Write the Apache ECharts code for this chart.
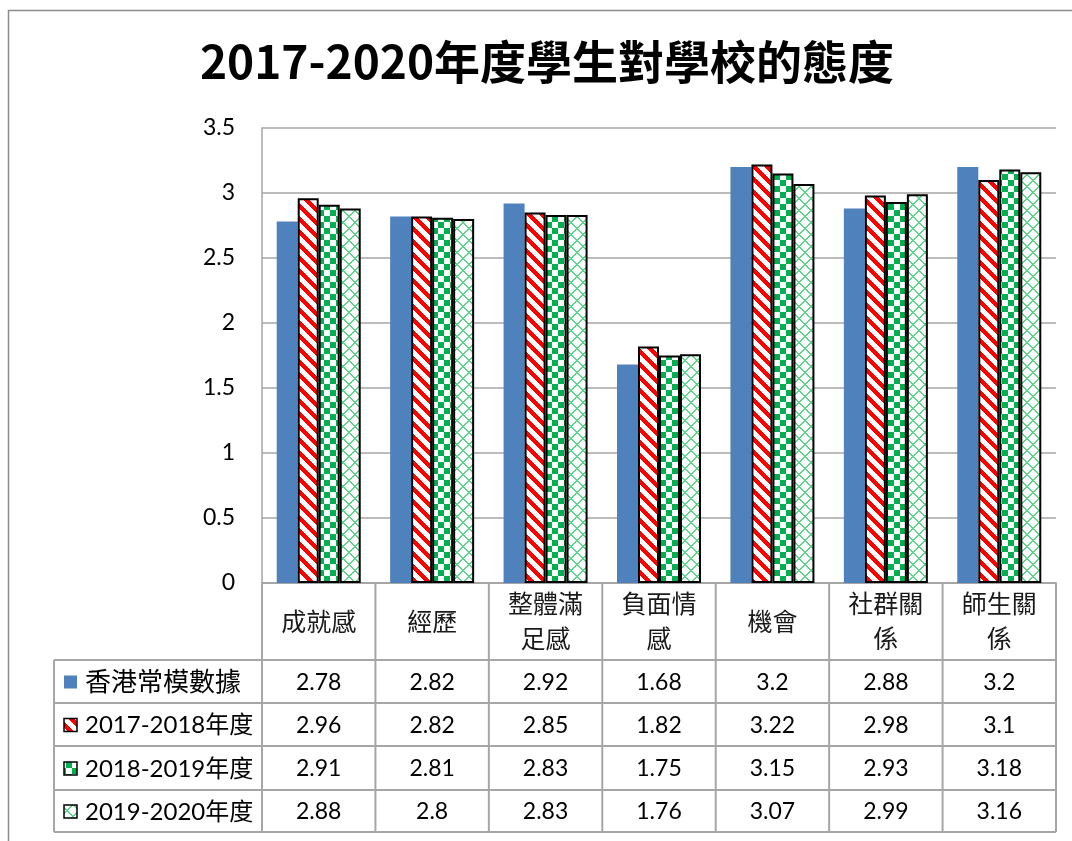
<!DOCTYPE html>
<html>
<head>
<meta charset="utf-8">
<script src="https://cdn.jsdelivr.net/npm/echarts@6/dist/echarts.min.js"></script>
<style>
html,body{margin:0;padding:0;background:#fff;}
#main{width:1072px;height:841px;}
</style>
</head>
<body>
<div id="main"></div>
<script>
const titleText = '2017-2020年度學生對學校的態度';
const categories = ['成就感', '經歷', '整體滿足感', '負面情感', '機會', '社群關係', '師生關係'];
const seriesNames = ['香港常模數據', '2017-2018年度', '2018-2019年度', '2019-2020年度'];
const normHK = [2.78, 2.82, 2.92, 1.68, 3.2, 2.88, 3.2];
const y2017 = [2.96, 2.82, 2.85, 1.82, 3.22, 2.98, 3.1];
const y2018 = [2.91, 2.81, 2.83, 1.75, 3.15, 2.93, 3.18];
const y2019 = [2.88, 2.8, 2.83, 1.76, 3.07, 2.99, 3.16];
const seriesData = [normHK, y2017, y2018, y2019];

// layout constants
const W = 1072, H = 841;
const gridLeft = 262, gridRight = 1056, gridTop = 128, gridBottom = 583;
const rowBounds = [660, 703, 746, 790, 832];
const tableLeft = 54;
const lineColor = '#a6a6a6';

function makePattern(type) {
  let size = type === 'stripe' ? 13 : 12;
  const c = document.createElement('canvas');
  c.width = size; c.height = size;
  const ctx = c.getContext('2d');
  const img = ctx.createImageData(size, size);
  for (let y = 0; y < size; y++) {
    for (let x = 0; x < size; x++) {
      let col = [255, 255, 255];
      if (type === 'stripe') {
        const d = ((x - y) % size + size) % size;
        if (d < 6) col = [255, 0, 0];
      } else if (type === 'check') {
        if ((Math.floor(x / 6) + Math.floor(y / 6)) % 2 === 0) col = [0, 176, 80];
      } else if (type === 'cross') {
        const a = (x + y) % size;
        const b = ((x - y) % size + size) % size;
        if (a < 2 || b < 2) col = [95, 212, 140];
      }
      const i = (y * size + x) * 4;
      img.data[i] = col[0]; img.data[i + 1] = col[1]; img.data[i + 2] = col[2]; img.data[i + 3] = 255;
    }
  }
  ctx.putImageData(img, 0, 0);
  return c;
}

const fills = [
  '#4f81bd',
  { image: makePattern('stripe'), repeat: 'repeat' },
  { image: makePattern('check'), repeat: 'repeat' },
  { image: makePattern('cross'), repeat: 'repeat' }
];

const chart = echarts.init(document.getElementById('main'), null, { renderer: 'canvas' });

function wrap3(s) {
  if (s.length <= 3) return s;
  let out = [];
  for (let i = 0; i < s.length; i += 3) out.push(s.slice(i, i + 3));
  return out.join('\n');
}

const series = seriesNames.map((name, k) => ({
  name: name,
  type: 'bar',
  data: seriesData[k],
  barWidth: 21,
  barGap: '0%',
  itemStyle: k === 0
    ? { color: fills[0] }
    : { color: fills[k], borderColor: '#000', borderWidth: 2 },
  emphasis: { disabled: true }
}));

chart.setOption({
  animation: false,
  backgroundColor: '#fff',
  grid: { left: gridLeft, right: W - gridRight, top: gridTop, bottom: H - gridBottom, containLabel: false },
  xAxis: {
    type: 'category',
    data: categories,
    axisLine: { show: true, lineStyle: { color: lineColor, width: 2 } },
    axisTick: { show: false },
    axisLabel: {
      interval: 0,
      margin: 38,
      verticalAlign: 'middle',
      lineHeight: 35,
      fontSize: 25,
      fontFamily: 'Noto Sans CJK TC',
      color: '#1a1a1a',
      formatter: wrap3
    }
  },
  yAxis: {
    type: 'value',
    min: 0, max: 3.5, interval: 0.5,
    axisLine: { show: true, lineStyle: { color: lineColor, width: 1.5 } },
    axisTick: { show: false },
    splitLine: { show: true, lineStyle: { color: lineColor, width: 1.5 } },
    axisLabel: { margin: 27, fontSize: 23, fontFamily: 'Lato', color: '#000' }
  },
  series: series
});

// build title, frame and data table
const colW = (gridRight - gridLeft) / categories.length;
const g = [];
g.push({ type: 'rect', shape: { x: 8.5, y: 10.5, width: 1200, height: 1000 }, style: { fill: 'none', stroke: '#8c8c8c', lineWidth: 1.5 }, silent: true, z: 0 });
g.push({ type: 'text', style: { text: titleText, x: 547, y: 62, textAlign: 'center', textVerticalAlign: 'middle', align: 'center', verticalAlign: 'middle', font: 'bold 46px "Noto Sans CJK TC"', fill: '#000' }, silent: true });

rowBounds.forEach(y => {
  g.push({ type: 'line', shape: { x1: tableLeft, y1: y, x2: gridRight, y2: y }, style: { stroke: lineColor, lineWidth: 2 }, silent: true, z: 5 });
});
g.push({ type: 'line', shape: { x1: tableLeft, y1: rowBounds[0], x2: tableLeft, y2: rowBounds[rowBounds.length - 1] }, style: { stroke: lineColor, lineWidth: 2 }, silent: true, z: 5 });
for (let i = 0; i <= categories.length; i++) {
  const x = gridLeft + i * colW;
  g.push({ type: 'line', shape: { x1: x, y1: gridBottom, x2: x, y2: rowBounds[rowBounds.length - 1] }, style: { stroke: lineColor, lineWidth: 2 }, silent: true, z: 5 });
}
seriesNames.forEach((name, k) => {
  const yc = (rowBounds[k] + rowBounds[k + 1]) / 2 + 1;
  g.push({ type: 'rect', shape: { x: 64, y: yc - 7, width: 13, height: 13 },
    style: k === 0 ? { fill: fills[0] } : { fill: fills[k], stroke: '#000', lineWidth: 1.5 }, silent: true, z: 6 });
  const fs = k === 0 ? 26 : 24;
  g.push({ type: 'text', style: { text: name, x: 85, y: yc, textAlign: 'left', textVerticalAlign: 'middle', align: 'left', verticalAlign: 'middle', font: fs + 'px Lato, "Noto Sans CJK TC"', fill: '#000' }, silent: true, z: 6 });
  seriesData[k].forEach((v, i) => {
    const xc = chart.convertToPixel({ xAxisIndex: 0 }, categories[i]);
    g.push({ type: 'text', style: { text: String(v), x: xc, y: yc, textAlign: 'center', textVerticalAlign: 'middle', align: 'center', verticalAlign: 'middle', font: '23px Lato', fill: '#000' }, silent: true, z: 6 });
  });
});

chart.setOption({ graphic: { elements: g } });
</script>
</body>
</html>
